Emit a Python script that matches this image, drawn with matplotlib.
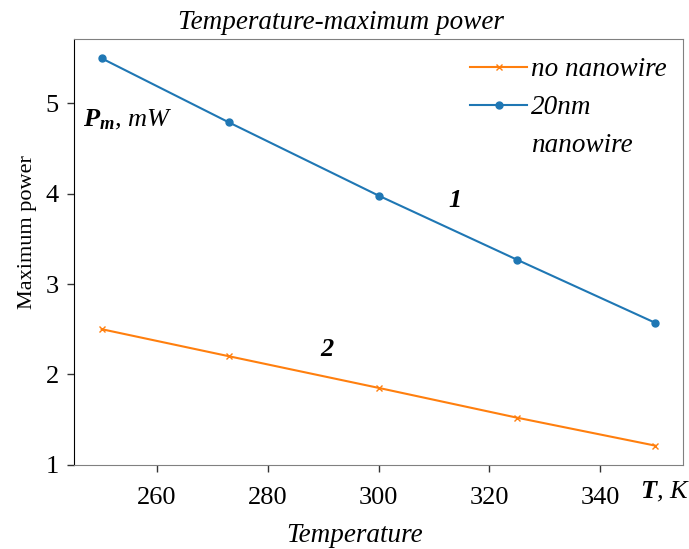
import numpy as np
import matplotlib.pyplot as plt

plt.rcParams['font.family'] = ['Liberation Serif', 'DejaVu Serif']
plt.rcParams['mathtext.fontset'] = 'custom'
plt.rcParams['mathtext.rm'] = 'Liberation Serif'
plt.rcParams['mathtext.it'] = 'Liberation Serif:italic'
plt.rcParams['mathtext.bf'] = 'Liberation Serif:bold'
plt.rcParams['mathtext.bfit'] = 'Liberation Serif:italic:bold'

# temperature, K
temps = [250, 273, 300, 325, 350]
# maximum power, mW
power_20nm = [5.50, 4.79, 3.98, 3.27, 2.57]
power_none = [2.50, 2.20, 1.85, 1.52, 1.21]

fig = plt.figure(figsize=(6.89, 5.49), dpi=100)
ax = fig.add_axes([0.1074, 0.153, 0.8839, 0.776])

ax.plot(temps, power_none, color='tab:orange', marker='x', markersize=5, lw=1.5, label='no nanowire')
ax.plot(temps, power_20nm, color='tab:blue', marker='o', markersize=5, lw=1.5, label='20nm')
# second line of the blue label, kept apart so the marker sits on "20nm"
ax.plot([], [], ' ', label='nanowire')

ax.set_xticks([260, 280, 300, 320, 340])
ax.set_yticks([1, 2, 3, 4, 5])
ax.tick_params(labelsize=19, length=5, width=1, colors='#333333', labelcolor='black')
ax.tick_params(axis='x', pad=11)
ax.tick_params(axis='y', pad=6)
for side in ['top', 'right', 'bottom']:
    ax.spines[side].set_color('#808080')
ax.spines['left'].set_color('black')

ax.set_title('Temperature-maximum power', fontsize=19.5, style='italic', pad=7, x=0.438)
ax.set_xlabel('Temperature', fontsize=19.5, style='italic', labelpad=10, x=0.46)
ax.set_ylabel('Maximum power', fontsize=16, labelpad=6, y=0.547)

ax.text(0.015, 0.81, r'$\mathbfit{P_m}$, mW', transform=ax.transAxes, fontsize=19,
        style='italic', va='center', ha='left')
ax.text(0.93, -0.063, r'$\mathbfit{T}$, K', transform=ax.transAxes, fontsize=19,
        style='italic', va='center', ha='left', clip_on=False)
ax.text(313.8, 3.93, '1', fontsize=19, style='italic', weight='bold', ha='center', va='center')
ax.text(290.7, 2.27, '2', fontsize=19, style='italic', weight='bold', ha='center', va='center')

leg = ax.legend(loc='upper right', bbox_to_anchor=(1.0, 0.995), frameon=False,
                prop={'size': 19.5, 'style': 'italic'},
                handlelength=2.1, handletextpad=0.15, borderaxespad=0.2, labelspacing=0.48)

fig.savefig('out.png', dpi=100)
